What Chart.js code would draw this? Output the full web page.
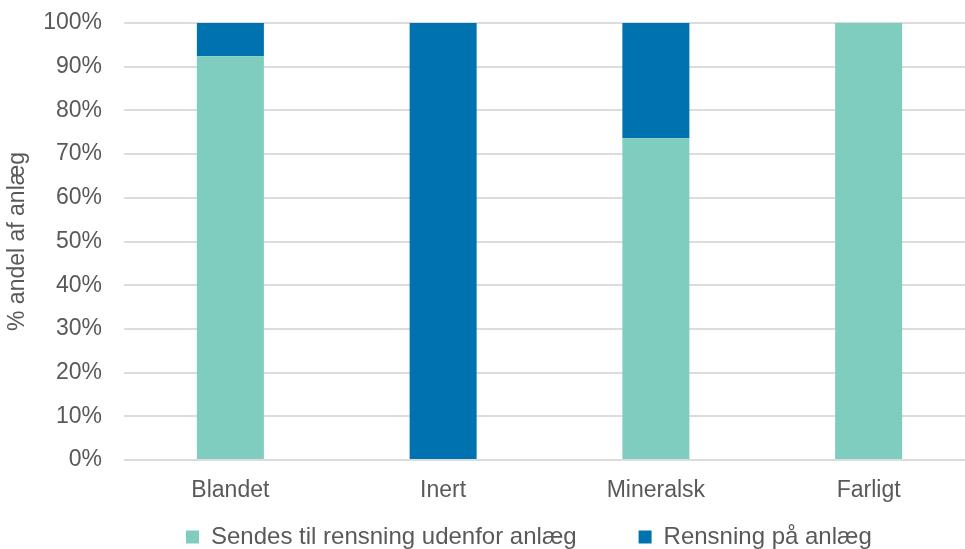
<!DOCTYPE html>
<html>
<head>
<meta charset="utf-8">
<script src="https://cdn.jsdelivr.net/npm/chart.js@4.4.1/dist/chart.umd.min.js"></script>
<style>
  html, body { margin: 0; padding: 0; background: #ffffff; overflow: hidden; }
  #wrap { width: 965px; height: 549px; overflow: hidden; }
</style>
</head>
<body>
<div id="wrap"><canvas id="c" width="975" height="549"></canvas></div>
<script>
const categories = ['Blandet', 'Inert', 'Mineralsk', 'Farligt'];
const seriesNames = ['Sendes til rensning udenfor anlæg', 'Rensning på anlæg'];
const sendesValues = [92.4, 0, 73.6, 100];
const rensningValues = [7.6, 100, 26.4, 0];
const yTickValues = [0, 10, 20, 30, 40, 50, 60, 70, 80, 90, 100];
const yTitle = '% andel af anlæg';

const TEAL = '#7fcdbf';
const BLUE = '#0072b0';
const TEXT = '#595959';
const GRID = '#dcdcdc';
const FONT = 'Liberation Sans, Arial, sans-serif';

new Chart(document.getElementById('c'), {
  type: 'bar',
  data: {
    labels: categories,
    datasets: [
      { label: seriesNames[0], data: sendesValues, backgroundColor: TEAL, borderWidth: 0,
        categoryPercentage: 1, barPercentage: 0.315 },
      { label: seriesNames[1], data: rensningValues, backgroundColor: BLUE, borderWidth: 0,
        categoryPercentage: 1, barPercentage: 0.315 }
    ]
  },
  options: {
    responsive: false,
    animation: false,
    devicePixelRatio: 1,
    layout: { padding: { top: 23, left: 0, right: 0, bottom: 0 } },
    scales: {
      x: {
        stacked: true,
        grid: { display: false, drawTicks: false },
        border: { display: false },
        ticks: { color: TEXT, font: { family: FONT, size: 23 }, padding: 17, maxRotation: 0,
                 autoSkip: false },
        afterFit: (s) => {
          s.height = 3;
          s.paddingLeft = 0; s.paddingRight = 0;
          s._computeLabelArea = () => undefined;
        }
      },
      y: {
        stacked: true,
        min: 0, max: 100,
        afterBuildTicks: (s) => { s.ticks = yTickValues.map(v => ({ value: v })); },
        grid: { color: GRID, lineWidth: 2, drawTicks: false },
        border: { display: false },
        ticks: { color: TEXT, font: { family: FONT, size: 23 }, padding: 22,
                 callback: (v) => v + '%' },
        title: { display: true, text: yTitle, color: TEXT, font: { family: FONT, size: 23 } },
        afterFit: (s) => { s.width = 124; s.paddingTop = 0; s.paddingBottom = 0; }
      }
    },
    plugins: {
      tooltip: { enabled: false },
      legend: {
        position: 'bottom',
        align: 'start',
        fullSize: false,
        maxHeight: 86,
        labels: {
          color: TEXT,
          font: { family: FONT, size: 24 },
          boxWidth: 13,
          boxHeight: 13,
          padding: 62
        }
      }
    }
  }
});
</script>
</body>
</html>
